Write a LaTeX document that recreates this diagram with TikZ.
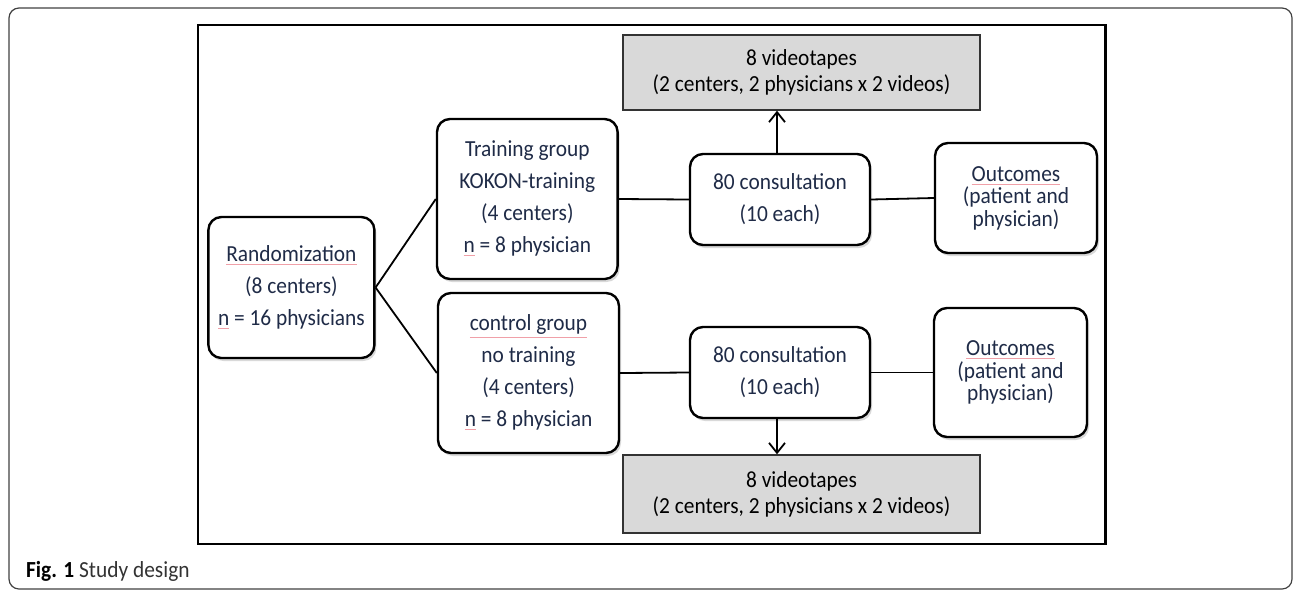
\documentclass[tikz,border=0pt]{standalone}
\usepackage{fontspec}
\setmainfont{Carlito}[FakeStretch=0.93]
\usepackage{xcolor}
\usepackage{tikz}
\usetikzlibrary{arrows.meta, shadows}
\definecolor{navytext}{HTML}{1F2B47}
\definecolor{spellred}{HTML}{F0A0A8}
\definecolor{tapegray}{HTML}{D9D9D9}
\newcommand{\spellmark}[1]{{\color{spellred}\underline{\textcolor{navytext}{#1}}}}
\tikzset{
    stepbox/.style  = {draw, line width=1.2pt, rounded corners=6.5pt, fill=white,
                       align=center, inner sep=0pt, text=navytext,
                       font=\fontsize{11.5}{16}\selectfont,
                       drop shadow={opacity=0.3, shadow xshift=1pt, shadow yshift=-1.5pt}},
    outbox/.style   = {stepbox, font=\fontsize{11.5}{11.25}\selectfont},
    tapebox/.style  = {draw=black!80, line width=0.7pt, fill=tapegray, align=center,
                       inner sep=0pt, minimum width=178.5pt, text=black,
                       font=\fontsize{11.5}{13}\selectfont},
    link/.style     = {line width=0.9pt},
    feed/.style     = {link, -{Straight Barb[length=5pt, width=8pt, line width=0.9pt]}}
}

\begin{document}
\begin{tikzpicture}[x=0.5pt, y=-0.5pt]
    \useasboundingbox (0,0) rectangle (1293,590);
    \draw[black!75, line width=0.6pt, rounded corners=5pt] (9,8) rectangle (1292,589);
    \draw[line width=1.4pt] (198,25) rectangle (1105.6,544);

    \node[stepbox, minimum width=83pt, minimum height=70.5pt] (rando) at (291.4,287.5)
        {\spellmark{Randomization}\\(8 centers)\\\spellmark{n} = 16 physicians};

    \node[stepbox, minimum width=90.3pt, minimum height=80pt] (trgrp) at (527.3,199)
        {Training group\\KOKON-training\\(4 centers)\\\spellmark{n} = 8 physician};
    \node[stepbox, minimum width=90.5pt, minimum height=80pt] (ctgrp) at (528.5,373)
        {\spellmark{control group}\\no training\\(4 centers)\\\spellmark{n} = 8 physician};

    \node[stepbox, minimum width=90pt, minimum height=45.5pt] (cons-t) at (780,199.5)
        {80 consultation\\(10 each)};
    \node[stepbox, minimum width=90pt, minimum height=45.5pt] (cons-c) at (780,372.5)
        {80 consultation\\(10 each)};

    \node[outbox, minimum width=81pt, minimum height=55pt] (out-t) at (1016,198)
        {\spellmark{Outcomes}\\(patient and\\physician)};
    \node[outbox, minimum width=76.5pt, minimum height=64.5pt] (out-c) at (1010.5,372.5)
        {\spellmark{Outcomes}\\(patient and\\physician)};

    \node[tapebox, minimum height=37.5pt] (vid-t) at (801.5,72.5)
        {8 videotapes\\(2 centers, 2 physicians x 2 videos)};
    \node[tapebox, minimum height=39pt] (vid-c) at (801.5,494)
        {8 videotapes\\(2 centers, 2 physicians x 2 videos)};

    \draw[link] (rando.east) -- (trgrp.west);
    \draw[link] (rando.east) -- (ctgrp.west);
    \draw[link] (trgrp.east) -- (cons-t.west);
    \draw[link] (ctgrp.east) -- (cons-c.west);
    \draw[link] (cons-t.east) -- (out-t.west);
    \draw[link] (cons-c.east) -- (out-c.west);
    \draw[feed] ([xshift=-1.5pt]cons-t.north) -- ([xshift=-1.5pt]cons-t.north |- vid-t.south);
    \draw[feed] ([xshift=-1.5pt]cons-c.south) -- ([xshift=-1.5pt]cons-c.south |- vid-c.north);

    \node[anchor=base west, inner sep=0pt, font=\fontsize{11.5}{13}\selectfont] (capt) at (25.7,577)
        {\textbf{Fig. 1} \textcolor{black!80}{Study design}};
\end{tikzpicture}
\end{document}
